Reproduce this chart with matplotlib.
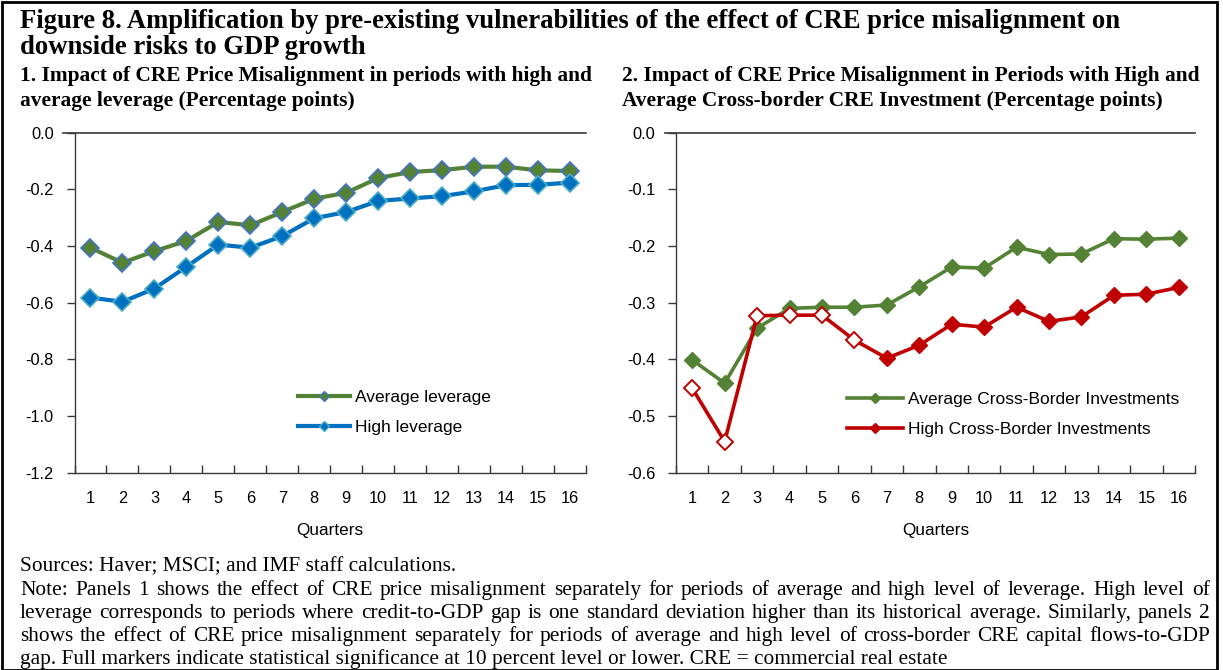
import matplotlib
matplotlib.use('Agg')
import matplotlib.pyplot as plt
from matplotlib.lines import Line2D
from matplotlib.patches import Rectangle
import numpy as np

plt.rcParams['axes.unicode_minus'] = False

# ---------------- data ----------------
quarters = list(range(1, 17))
avg_leverage = [-0.406, -0.459, -0.418, -0.382, -0.315, -0.327, -0.280, -0.233,
                -0.212, -0.160, -0.139, -0.132, -0.120, -0.120, -0.133, -0.135]
high_leverage = [-0.582, -0.597, -0.550, -0.473, -0.395, -0.406, -0.365, -0.302,
                 -0.280, -0.241, -0.232, -0.224, -0.207, -0.185, -0.184, -0.176]
avg_cb = [-0.401, -0.442, -0.345, -0.310, -0.308, -0.308, -0.304, -0.272,
          -0.237, -0.239, -0.202, -0.215, -0.214, -0.187, -0.188, -0.186]
high_cb = [-0.451, -0.545, -0.323, -0.322, -0.322, -0.366, -0.398, -0.375,
           -0.338, -0.343, -0.308, -0.333, -0.325, -0.287, -0.285, -0.273]
high_cb_significant = [0, 0, 0, 0, 0, 0, 1, 1, 1, 1, 1, 1, 1, 1, 1, 1]

left_yticks = [0.0, -0.2, -0.4, -0.6, -0.8, -1.0, -1.2]
right_yticks = [0.0, -0.1, -0.2, -0.3, -0.4, -0.5, -0.6]

title_lines = ["Figure 8. Amplification by pre-existing vulnerabilities of the effect of CRE price misalignment on",
               "downside risks to GDP growth"]
sub1_lines = ["1. Impact of CRE Price Misalignment in periods with high and",
              "average leverage (Percentage points)"]
sub2_lines = ["2. Impact of CRE Price Misalignment in Periods with High and",
              "Average Cross-border CRE Investment (Percentage points)"]
sources = "Sources: Haver; MSCI; and IMF staff calculations."
note_lines = [
    "Note: Panels 1 shows the effect of CRE price misalignment separately for periods of average and high level of leverage. High level of",
    "leverage corresponds to periods where credit-to-GDP gap is one standard deviation higher than its historical average. Similarly, panels 2",
    "shows the effect of CRE price misalignment separately for periods of average and high level of cross-border CRE capital flows-to-GDP",
    "gap. Full markers indicate statistical significance at 10 percent level or lower. CRE = commercial real estate",
]

# ---------------- styles ----------------
GREEN = '#548235'
BLUE = '#0070C0'
LBLUE = '#4BACC6'
GEDGE = '#4472C4'
RED = '#C00000'
SANS = 'Liberation Sans'
SERIF = 'Liberation Serif'

W, H = 1223, 670
fig = plt.figure(figsize=(W / 100, H / 100), dpi=100)
renderer = fig.canvas.get_renderer()


def text_width(s, size, weight='normal', family=SERIF):
    t = fig.text(0, 0, s, fontsize=size, fontweight=weight, family=family)
    w = t.get_window_extent(renderer).width
    t.remove()
    return w


def fit_size(s, target, weight='normal', family=SERIF):
    return 12 * target / text_width(s, 12, weight, family)


def put(s, x, ybase, size, weight='normal', family=SERIF):
    fig.text(x / W, 1 - ybase / H, s, fontsize=size, fontweight=weight,
             family=family, va='baseline', ha='left')


def justified(line, x0, x1, ybase, size, family=SERIF):
    words = line.split(' ')
    widths = [text_width(w, size, 'normal', family) for w in words]
    gap = (x1 - x0 - sum(widths)) / (len(words) - 1)
    x = x0
    for w, wd in zip(words, widths):
        put(w, x, ybase, size, 'normal', family)
        x += wd + gap


# titles
ts = fit_size(title_lines[0], 1094, 'bold')
put(title_lines[0], 20, 28, ts, 'bold')
put(title_lines[1], 20, 54, ts, 'bold')
ss = min(fit_size(sub1_lines[0], 570, 'bold'), fit_size(sub2_lines[0], 585, 'bold'))
put(sub1_lines[0], 20, 81, ss, 'bold')
put(sub1_lines[1], 20, 106, ss, 'bold')
put(sub2_lines[0], 622, 81, ss, 'bold')
put(sub2_lines[1], 622, 106, ss, 'bold')

# notes
ns = fit_size(note_lines[3], 923)
put(sources, 20, 571, ns)
justified(note_lines[0], 20, 1210, 595, ns)
justified(note_lines[1], 20, 1210, 618, ns)
justified(note_lines[2], 20, 1210, 641, ns)
put(note_lines[3], 20, 664, ns)

# border
fig.add_artist(Rectangle((1.5 / W, 0.5 / H), (1217 - 1.5) / W, (H - 2) / H,
                         transform=fig.transFigure, fill=False, ec='black', lw=2.0))


def setup_axes(rect, ylim, yticks):
    x0, x1, ytop, ybot = rect
    ax = fig.add_axes([x0 / W, 1 - ybot / H, (x1 - x0) / W, (ybot - ytop) / H])
    ax.set_xlim(0.5, 16.5)
    ax.set_ylim(*ylim)
    for s in ['top', 'right']:
        ax.spines[s].set_visible(False)
    for s in ['left', 'bottom']:
        ax.spines[s].set_color('#3a3a3a')
        ax.spines[s].set_linewidth(1.0)
    ax.set_yticks(yticks)
    ax.set_yticklabels([f'{v:.1f}' for v in yticks], family=SANS, fontsize=11.8)
    ax.tick_params(axis='y', direction='out', length=6, width=1, color='#3a3a3a', pad=9)
    ax.set_xticks(quarters)
    ax.set_xticklabels([str(q) for q in quarters], family=SANS, fontsize=11.8)
    ax.set_xticks(np.arange(0.5, 17, 1.0), minor=True)
    ax.tick_params(axis='x', which='major', length=0, pad=13)
    ax.tick_params(axis='x', which='minor', direction='in', length=6, width=1, color='#3a3a3a')
    ax.axhline(0, xmin=-0.022, xmax=1.0, color='#3a3a3a', lw=1.2, clip_on=False)
    ax.patch.set_alpha(0)
    return ax


# ---------------- left panel ----------------
ax1 = setup_axes((74.5, 586, 132.7, 472.7), (-1.2, 0), left_yticks)
ax1.plot(quarters, avg_leverage, color=GREEN, lw=3, marker='D', ms=9,
         mfc=GREEN, mec=GEDGE, mew=1.2, zorder=3)
ax1.plot(quarters, high_leverage, color=BLUE, lw=3, marker='D', ms=9,
         mfc=BLUE, mec=LBLUE, mew=1.2, zorder=3)
h1 = [Line2D([], [], color=GREEN, lw=3, marker='D', ms=5, mfc=GREEN, mec=GEDGE),
      Line2D([], [], color=BLUE, lw=3, marker='D', ms=5, mfc=BLUE, mec=LBLUE)]
ax1.legend(h1, ['Average leverage', 'High leverage'], loc='upper left',
           bbox_to_anchor=((298 - 74.5) / 511.5, 1 - (390 - 132.7) / 340),
           frameon=False, prop={'family': SANS, 'size': 12.5}, handlelength=3.0,
           handletextpad=0.3, labelspacing=0.84, borderpad=0, borderaxespad=0)
fig.text(((74.5 + 586) / 2) / W, 1 - 530 / H, 'Quarters', family=SANS, fontsize=12.3,
         ha='center', va='center')

# ---------------- right panel ----------------
ax2 = setup_axes((676, 1195, 132.7, 472.7), (-0.6, 0), right_yticks)
ax2.plot(quarters, avg_cb, color=GREEN, lw=2.6, marker='D', ms=8.5,
         mfc=GREEN, mec=GREEN, zorder=3)
ax2.plot(quarters, high_cb, color=RED, lw=2.6, zorder=3)
sig = np.array(high_cb_significant, dtype=bool)
q = np.array(quarters)
hc = np.array(high_cb)
ax2.plot(q[sig], hc[sig], ls='none', marker='D', ms=8.5, mfc=RED, mec=RED, zorder=4)
ax2.plot(q[~sig], hc[~sig], ls='none', marker='D', ms=8.5, mfc='white', mec=RED,
         mew=1.4, zorder=4)
h2 = [Line2D([], [], color=GREEN, lw=2.6, marker='D', ms=5, mfc=GREEN, mec=GREEN),
      Line2D([], [], color=RED, lw=2.6, marker='D', ms=5, mfc=RED, mec=RED)]
ax2.legend(h2, ['Average Cross-Border Investments', 'High Cross-Border Investments'],
           loc='upper left',
           bbox_to_anchor=((847 - 676) / 519, 1 - (392 - 132.7) / 340),
           frameon=False, prop={'family': SANS, 'size': 12.5}, handlelength=3.2,
           handletextpad=0.3, labelspacing=0.84, borderpad=0, borderaxespad=0)
fig.text(((676 + 1195) / 2) / W, 1 - 530 / H, 'Quarters', family=SANS, fontsize=12.3,
         ha='center', va='center')

fig.savefig('out.png', dpi=100)
